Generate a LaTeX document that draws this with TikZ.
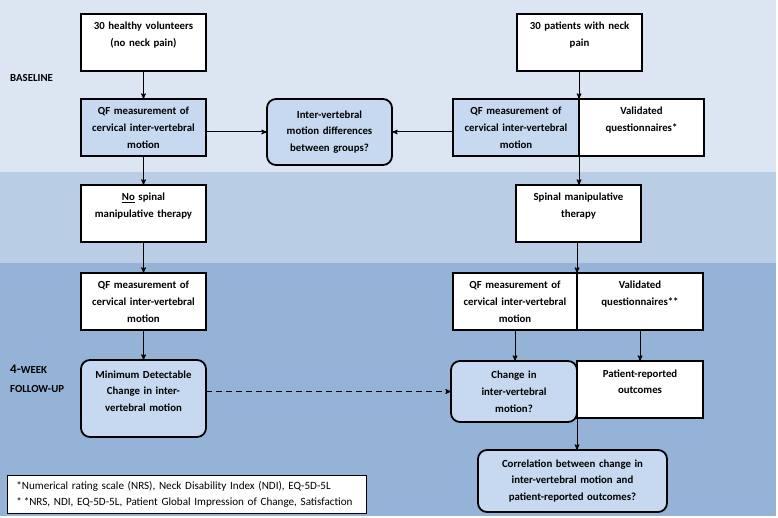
\documentclass[tikz,border=0pt]{standalone}
\usepackage{fontspec}
\setmainfont{Carlito}
\usepackage{xcolor}
\usetikzlibrary{arrows, positioning}

\definecolor{bandtop}{HTML}{DCE6F2}
\definecolor{bandmid}{HTML}{B9CDE5}
\definecolor{bandbot}{HTML}{95B3D7}
\definecolor{boxblue}{HTML}{C6D9F1}

\newcommand{\flowfont}{\fontsize{10.8}{16.8}\selectfont\bfseries}
\newcommand{\notefont}{\fontsize{11.1}{16}\selectfont}

\begin{document}
\begin{tikzpicture}[
    x=1pt, y=-1pt,
    box/.style={rectangle, draw, line width=1.4pt, outer sep=0pt, fill=white, text width=115pt, inner xsep=5pt, inner ysep=4pt, align=center, text height=12pt, text depth=37pt, font=\flowfont},
    question/.style={rectangle, rounded corners=9pt, draw, line width=1.8pt, outer sep=0pt, fill=boxblue, text width=115pt, inner xsep=5pt, inner ysep=4pt, align=center, font=\flowfont},
    phase/.style={anchor=west, inner sep=0pt, font=\fontsize{10.8}{12}\selectfont\bfseries},
    arrow/.style={->, >=stealth', line width=1pt}
]
\useasboundingbox (0,0) rectangle (778,518);

% Background bands
\fill [bandtop] (0,0) rectangle (776,172);
\fill [bandmid] (0,172) rectangle (776,263);
\fill [bandbot] (0,263) rectangle (776,516);

% Phase labels
\node [phase] (baseline) at (10,78) {BASELINE};
\node [phase] (week) at (10,369) {{\fontsize{13}{13}\selectfont 4-}WEEK};
\node [phase] (followup) at (10,389) {FOLLOW-UP};

% Healthy volunteers
\node [box] (healthy) at (143.5,42.5) {30 healthy volunteers\\(no neck pain)};
\node [box, fill=boxblue] (qfL) at (143.5,127.5) {QF measurement of\\cervical inter-vertebral\\motion};
\node [box] (nospinal) at (143.5,213.5) {\underline{No} spinal\\manipulative therapy};
\node [box] (qfL2) at (143.5,301.5) {QF measurement of\\cervical inter-vertebral\\motion};
\node [question, minimum height=77pt, text height=14pt, text depth=55pt] (mdc) at (143.5,398.5) {Minimum Detectable\\Change in inter-\\vertebral motion};

% Group comparison
\node [question, minimum height=66pt] (diff) at (329.5,132) {Inter-vertebral\\motion differences\\between groups?};

% Neck pain patients
\node [box] (patients) at (579.5,42.5) {30 patients with neck\\pain};
\node [box, fill=boxblue, text width=116pt, anchor=east] (qfR) at (579,127.5) {QF measurement of\\cervical inter-vertebral\\motion};
\node [box, right=0pt of qfR] (valR) {Validated\\questionnaires*};
\node [box] (spinal) at (578.5,213.5) {Spinal manipulative\\therapy};
\node [box, text width=114pt, anchor=east] (qfR2) at (577,301.5) {QF measurement of\\cervical inter-vertebral\\motion};
\node [box, text width=116pt, right=0pt of qfR2] (valR2) {Validated\\questionnaires**};
\node [question, text width=116pt, minimum height=61pt] (change) at (514,391.5) {Change in\\inter-vertebral\\motion?};
\node [box, text width=116pt, anchor=north west] (patient) at (change.north east) {Patient-reported\\outcomes};
\node [question, text width=179pt, minimum height=62pt] (corr) at (572.5,481) {Correlation between change in\\inter-vertebral motion and\\patient-reported outcomes?};

% Footnote
\node [rectangle, draw, line width=0.8pt, fill=white, anchor=north west, minimum width=359pt, minimum height=38pt, text width=349pt, inner xsep=5pt, align=left, font=\notefont] (note) at (7,475) {\hspace{4pt}*Numerical rating scale (NRS), Neck Disability Index (NDI), EQ-5D-5L\\\hspace{4pt}*\,*NRS, NDI, EQ-5D-5L, Patient Global Impression of Change, Satisfaction};

% Healthy volunteer flow
\draw [arrow] (healthy) -- (qfL);
\draw [arrow] (qfL) -- (nospinal);
\draw [arrow] (nospinal) -- (qfL2);
\draw [arrow] (qfL2) -- (mdc);

% Baseline comparison
\draw [arrow] (qfL.east |- diff.west) -- (diff.west);
\draw [arrow] (qfR.west |- diff.east) -- (diff.east);

% Patient flow
\draw [arrow] (qfR.north east |- patients.south) -- (qfR.north east);
\draw [arrow] (qfR.south east) -- (qfR.south east |- spinal.north);
\draw [arrow] (qfR2.north east |- spinal.south) -- (qfR2.north east);
\draw [arrow] (qfR2.south) -- (qfR2.south |- change.north);
\draw [arrow] (valR2) -- (patient);
\draw [arrow] (patient.south west) -- (patient.south west |- corr.north);

% Detectable change threshold
\draw [arrow, dashed, dash pattern=on 6pt off 4pt] (mdc.east |- change.west) -- (change.west);

\end{tikzpicture}
\end{document}
